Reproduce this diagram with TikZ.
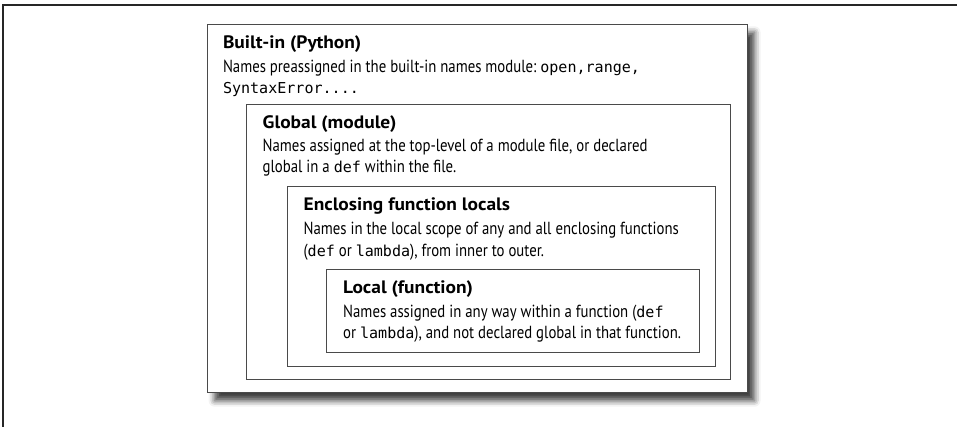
\documentclass[tikz,border=0pt]{standalone}
\usepackage{fontspec}
\setmainfont{PT Sans}[FakeStretch=0.845]
\newfontfamily\headfont{PT Sans}[FakeStretch=1.08]
\setmonofont{DejaVu Sans Mono}[Scale=0.86]
\usetikzlibrary{shadows.blur}
\definecolor{boxline}{HTML}{4A4A4A}
\newcommand\scopefont{\fontsize{17.5}{21}\selectfont}
\tikzset{
  scopebox/.style={draw=boxline,line width=1pt},
  scopetitle/.style={anchor=base west,inner sep=0pt,font=\headfont\fontsize{18}{21}\selectfont\bfseries},
  scopetext/.style={anchor=base west,inner sep=0pt,font=\scopefont}
}

\begin{document}
\begin{tikzpicture}[x=1pt,y=-1pt]
    \useasboundingbox (0,0) rectangle (957,427);
    \draw [line width=1.4pt,color=black!85] (957,5)--(3,5)--(3,427);
    \draw [scopebox,line width=1.3pt,fill=white,blur shadow={shadow xshift=7pt,shadow yshift=-8pt,shadow blur radius=6pt,shadow opacity=75}] (207.6,24.3) rectangle (747.5,392.7);
    \draw [scopebox] (246,104.3) rectangle (730.8,379.5);
    \draw [scopebox] (287,187) rectangle (715,366);
    \draw [scopebox] (326.6,270) rectangle (699,352.7);
    \node [scopetitle] (builtin) at (222.8,48.5) {Built-in (Python)};
    \node [scopetext] (builtin1) at (222.8,72.8) {Names preassigned in the built-in names module:\ \texttt{open,range,}};
    \node [scopetext] (builtin2) at (222.8,93.8) {\texttt{SyntaxError....}};
    \node [scopetitle] (global) at (262.5,128.5) {Global (module)};
    \node [scopetext] (global1) at (262.5,151.2) {Names assigned at the top-level of a module file, or declared};
    \node [scopetext] (global2) at (262.5,172.8) {global in a \texttt{def} within the file.};
    \node [scopetitle] (enclosing) at (303.4,211) {Enclosing function locals};
    \node [scopetext] (enclosing1) at (303.4,234.5) {Names in the local scope of any and all enclosing functions};
    \node [scopetext] (enclosing2) at (303.4,256.2) {(\texttt{def} or \texttt{lambda}), from inner to outer.};
    \node [scopetitle] (local) at (343,293.5) {Local (function)};
    \node [scopetext] (local1) at (343,317.8) {Names assigned in any way within a function (\texttt{def}};
    \node [scopetext] (local2) at (343,338.8) {or \texttt{lambda}), and not declared global in that function.};
  \end{tikzpicture}
\end{document}
